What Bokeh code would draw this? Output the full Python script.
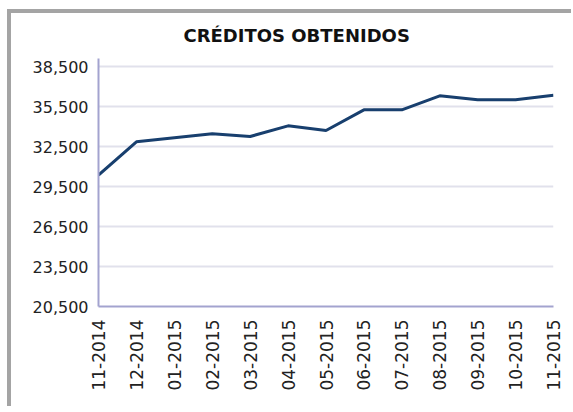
from math import pi
from bokeh.plotting import figure
from bokeh.models import ColumnDataSource, FixedTicker, NumeralTickFormatter, Range1d
from bokeh.embed import file_html
from bokeh.resources import INLINE

months = ["11-2014", "12-2014", "01-2015", "02-2015", "03-2015", "04-2015", "05-2015",
          "06-2015", "07-2015", "08-2015", "09-2015", "10-2015", "11-2015"]
creditos = [30350, 32850, 33150, 33450, 33250, 34050, 33700,
            35250, 35250, 36300, 36000, 36000, 36350]
y_ticks = [20500, 23500, 26500, 29500, 32500, 35500, 38500]
title_text = "CRÉDITOS OBTENIDOS"

idx = list(range(len(months)))
src = ColumnDataSource(data=dict(x=idx, y=creditos, m=months))

p = figure(frame_width=455, frame_height=248, output_backend="svg", toolbar_location=None,
           x_range=Range1d(0, len(months) - 1), y_range=Range1d(20500, 39100),
           min_border_left=87, min_border_top=45, min_border_right=18, min_border_bottom=100)
p.styles = {"border-left": "4px solid #a4a4a4", "border-top": "4px solid #a4a4a4",
            "margin-left": "7px", "margin-top": "9px"}

p.title.text = title_text
p.title.align = "left"
p.title.vertical_align = "top"
p.title.offset = 85
p.title.standoff = 21
p.title.text_font = "DejaVu Sans"
p.title.text_font_style = "bold"
p.title.text_font_size = "18px"
p.title.text_color = "#111111"

p.line("x", "y", source=src, line_color="#183f6e", line_width=3)

p.outline_line_color = None
p.background_fill_color = "white"
p.border_fill_color = "white"

p.xgrid.grid_line_color = None
p.ygrid.grid_line_color = "#e1e1ec"
p.ygrid.grid_line_width = 2
p.ygrid.ticker = FixedTicker(ticks=y_ticks)

p.yaxis.ticker = FixedTicker(ticks=y_ticks)
p.yaxis.formatter = NumeralTickFormatter(format="0,0")
p.xaxis.ticker = FixedTicker(ticks=idx)
p.xaxis.major_label_overrides = {i: m for i, m in zip(idx, months)}
p.xaxis.major_label_orientation = pi / 2

for ax in (p.xaxis, p.yaxis):
    ax.axis_line_color = "#a3a3cf"
    ax.axis_line_width = 2
    ax.major_tick_line_color = None
    ax.minor_tick_line_color = None
    ax.major_tick_out = 0
    ax.major_tick_in = 0
    ax.major_label_text_font = "DejaVu Sans"
    ax.major_label_text_color = "#222222"

p.yaxis.major_label_text_font_size = "16px"
p.yaxis.major_label_standoff = 10
p.xaxis.major_label_text_font_size = "17px"
p.xaxis.major_label_standoff = 13

open("out.html", "w").write(file_html(p, INLINE))
